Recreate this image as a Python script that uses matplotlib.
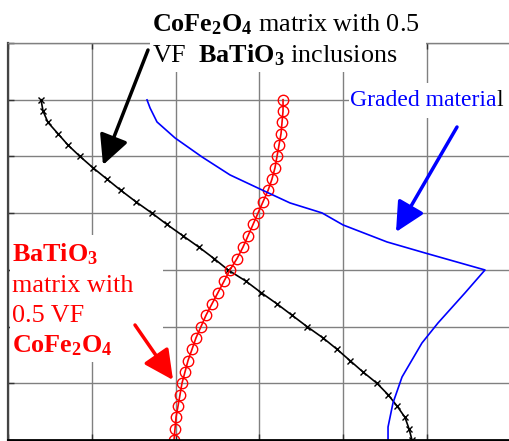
import matplotlib
matplotlib.use('Agg')
import matplotlib.pyplot as plt
from matplotlib.patches import Rectangle

plt.rcParams['font.family'] = ['Liberation Serif', 'DejaVu Serif']
plt.rcParams['mathtext.fontset'] = 'custom'
plt.rcParams['mathtext.rm'] = 'Liberation Serif'
plt.rcParams['mathtext.bf'] = 'Liberation Serif:bold'
plt.rcParams['mathtext.it'] = 'Liberation Serif:italic'

# data
depth = [6.0, 5.8, 5.6, 5.4, 5.2, 5.0, 4.8, 4.6, 4.4, 4.2, 4.0, 3.8, 3.6, 3.4, 3.2, 3.0,
         2.8, 2.6, 2.4, 2.2, 2.0, 1.8, 1.6, 1.4, 1.2, 1.0, 0.8, 0.6, 0.4, 0.2, 0.0]

cfo_matrix = [0.394, 0.418, 0.477, 0.597, 0.716, 0.859, 1.014, 1.181, 1.348, 1.527, 1.718,
              1.897, 2.088, 2.279, 2.458, 2.625, 2.840, 3.019, 3.210, 3.389, 3.568, 3.759,
              3.926, 4.081, 4.236, 4.403, 4.535, 4.642, 4.737, 4.785, 4.821]

bto_matrix = [3.282, 3.282, 3.270, 3.258, 3.234, 3.210, 3.186, 3.150, 3.103, 3.043, 2.983,
              2.924, 2.864, 2.804, 2.733, 2.649, 2.578, 2.506, 2.434, 2.363, 2.303, 2.243,
              2.196, 2.148, 2.112, 2.076, 2.053, 2.029, 2.005, 1.993, 1.981]

graded_x = [1.659, 1.695, 1.778, 1.993, 2.315, 2.649, 3.031, 3.365, 3.747, 3.998, 4.523,
            4.976, 5.692, 5.453, 5.131, 4.940, 4.702, 4.594, 4.535, 4.535]
graded_y = [5.997, 5.855, 5.608, 5.326, 4.991, 4.674, 4.409, 4.180, 4.004, 3.792, 3.492,
            3.298, 2.998, 2.593, 2.063, 1.711, 1.111, 0.653, 0.229, 0.0]

W, H = 510, 441


def fx(px):
    return px / W


def fy(py):
    return 1 - py / H


fig = plt.figure(figsize=(5.1, 4.41), dpi=100)
ax = fig.add_axes([fx(8), fy(440), 6.5 * 83.8 / W, 397 / H])
ax.set_xlim(0, 6.5)
ax.set_ylim(0, 7)
ax.set_xticks(range(0, 7))
ax.set_yticks(range(0, 8))
ax.set_xticklabels([])
ax.set_yticklabels([])
ax.tick_params(direction='in', length=4, width=1, top=True, color='#333333')
ax.grid(color='#808080', lw=1.0)

ax.spines['left'].set_color('#444444')
ax.spines['left'].set_linewidth(1.6)
ax.spines['bottom'].set_color('black')
ax.spines['bottom'].set_linewidth(2)
ax.spines['top'].set_color('#808080')
ax.spines['top'].set_linewidth(1.0)
ax.spines['right'].set_visible(False)

# curves
ax.plot(cfo_matrix, depth, color='black', lw=1.2, marker='x', ms=5, mew=1)
ax.plot(bto_matrix, depth, color='red', lw=1.2, marker='o', ms=7.5, mfc='none', mec='red', mew=1)
ax.plot(graded_x, graded_y, color='blue', lw=1.2)

# white boxes behind the labels (left, top, right, bottom in pixels)
boxes = [(150, 30, 426, 72), (10, 235, 163, 362), (349, 83, 512, 118)]
for l, t, r, b in boxes:
    ax.add_patch(Rectangle((fx(l), fy(b)), fx(r) - fx(l), fy(t) - fy(b),
                           transform=fig.transFigure, facecolor='white', edgecolor='none',
                           zorder=2.6, clip_on=False))

fs = 18.8
fig.text(fx(152), fy(31), r'$\mathbf{CoFe_2O_4}$ matrix with 0.5', fontsize=fs,
         va='baseline', ha='left', zorder=5)
fig.text(fx(152), fy(62), r'VF  $\mathbf{BaTiO_3}$ inclusions', fontsize=fs,
         va='baseline', ha='left', zorder=5)

red_lines = [r'$\mathbf{BaTiO_3}$', 'matrix with', '0.5 VF', r'$\mathbf{CoFe_2O_4}$']
red_base = [261, 292, 322, 352]
for s, b in zip(red_lines, red_base):
    ax.text(fx(12), fy(b), s, transform=fig.transFigure, fontsize=fs, color='red',
            va='baseline', ha='left', zorder=5)

g = ax.text(fx(350), fy(106), 'Graded materia', transform=fig.transFigure, fontsize=17,
            color='blue', va='baseline', ha='left', zorder=5)
ax.annotate('l', xy=(1, 0), xycoords=g, fontsize=17, color='black',
            va='bottom', ha='left', zorder=5)

# arrows
arrows = [((148, 50), (103, 165), 'black'),
          ((457, 127), (396, 232), 'blue'),
          ((135, 325), (173, 380), 'red')]
for (x0, y0), (x1, y1), c in arrows:
    ax.annotate('', xy=(x1, H - y1), xycoords='figure pixels',
                xytext=(x0, H - y0), textcoords='figure pixels',
                arrowprops=dict(arrowstyle='-|>,head_length=1.0,head_width=0.5',
                                color=c, lw=2.5, shrinkA=0, shrinkB=0, mutation_scale=18),
                zorder=6, annotation_clip=False)

fig.savefig('out.png', dpi=100)
